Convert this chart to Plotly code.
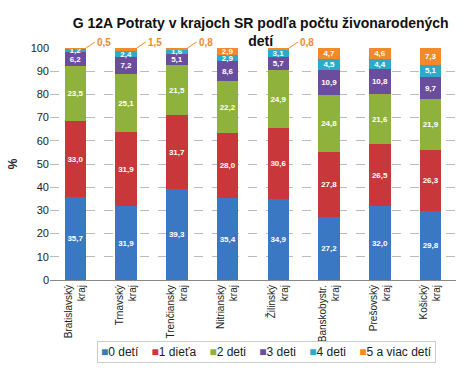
import plotly.graph_objects as go

regions = ["Bratislavský<br>kraj", "Trnavský<br>kraj", "Trenčiansky<br>kraj", "Nitriansky<br>kraj",
           "Žilinský<br>kraj", "Banskobystr.<br>kraj", "Prešovský<br>kraj", "Košický<br>kraj"]
series_names = ["0 detí", "1 dieťa", "2 deti", "3 deti", "4 deti", "5 a viac detí"]
s0 = [35.7, 31.9, 39.3, 35.4, 34.9, 27.2, 32.0, 29.8]
s1 = [33.0, 31.9, 31.7, 28.0, 30.6, 27.8, 26.5, 26.3]
s2 = [23.5, 25.1, 21.5, 22.2, 24.9, 24.8, 21.6, 21.9]
s3 = [6.2, 7.2, 5.1, 8.6, 5.7, 10.9, 10.8, 9.7]
s4 = [1.2, 2.4, 1.6, 2.9, 3.1, 4.5, 4.4, 5.1]
s5 = [0.5, 1.5, 0.8, 2.9, 0.8, 4.7, 4.6, 7.3]
colors = ["#3a78c4", "#c8373a", "#8fb23c", "#6b4d9e", "#2fa9c9", "#f28a2c"]
y_ticks = list(range(0, 101, 10))

all_series = [s0, s1, s2, s3, s4, s5]
label_font = "Liberation Sans Narrow, Liberation Sans, Arial"

def fmt(v):
    return f"{v:.1f}".replace(".", ",")

fig = go.Figure()
for i, (name, vals) in enumerate(zip(series_names, all_series)):
    texts = []
    sizes = []
    for v in vals:
        if i == 5 and v < 2:
            texts.append("")
        else:
            texts.append(fmt(v))
        sizes.append(8 if v < 3.5 else 10)
    fig.add_trace(go.Bar(
        x=regions, y=vals, name=name,
        marker=dict(color=colors[i], line=dict(width=0)),
        text=texts, textposition="inside", insidetextanchor="middle",
        textangle=0,
        textfont=dict(color="white", size=sizes, family=label_font, weight="bold"),
        constraintext="none",
        showlegend=False,
    ))

# leader labels for small top segments
half_bar = 0.21
for j, v in enumerate(s5):
    if v < 2:
        fig.add_annotation(
            x=j + half_bar, y=100, xref="x", yref="y",
            text="<b>" + fmt(v) + "</b>", showarrow=True, arrowhead=0,
            arrowcolor="#f28a2c", arrowwidth=1,
            ax=9, ay=-6, xanchor="left",
            font=dict(color="#f28a2c", size=10, family=label_font),
        )

# compact legend as a single bordered text box
legend_parts = []
for name, c in zip(series_names, colors):
    legend_parts.append(f"<span style='color:{c}'>■</span>{name}")
fig.add_annotation(
    xref="paper", yref="paper", x=0.534, y=-0.263, xanchor="center", yanchor="top",
    text="    ".join(legend_parts), showarrow=False,
    font=dict(size=12, color="#222222", family="Liberation Sans"),
    bordercolor="#cccccc", borderwidth=1, borderpad=3, bgcolor="white",
)

fig.update_layout(
    width=474, height=377,
    margin=dict(l=41, r=18, t=48, b=97),
    barmode="stack", bargap=0.58,
    paper_bgcolor="white", plot_bgcolor="white",
    font=dict(family="Liberation Sans", color="#222222"),
    title=dict(text="<b>G 12A Potraty v krajoch SR podľa počtu živonarodených<br>detí</b>",
               x=0.55, xanchor="center", yref="container", y=0.925, yanchor="top",
               font=dict(size=14, color="#111111")),
    showlegend=False,
    uniformtext=dict(minsize=7, mode="show"),
)
fig.update_yaxes(range=[0, 100], tickvals=y_ticks, showgrid=True, gridcolor="#bbbbbb",
                 griddash="dash", gridwidth=1, zeroline=False, tickfont=dict(size=11),
                 title=dict(text="<b>%</b>", font=dict(size=12), standoff=10))
fig.update_xaxes(tickangle=-90, tickfont=dict(size=10), showline=True, linecolor="#888888",
                 linewidth=1)

fig.write_html("out.html", config={"displayModeBar": False},
               post_script="document.body.style.margin='0px';")
